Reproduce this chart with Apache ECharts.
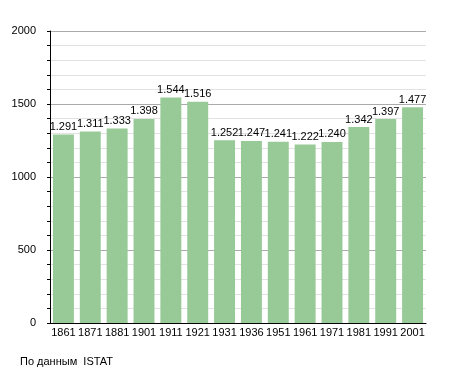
<!DOCTYPE html>
<html><head><meta charset="utf-8">
<script src="https://cdn.jsdelivr.net/npm/echarts@6/dist/echarts.min.js"></script>
<style>html,body{margin:0;padding:0;background:#fff}#c{width:455px;height:373px}</style>
</head><body><div id="c"></div>
<script>
const years = ['1861','1871','1881','1901','1911','1921','1931','1936','1951','1961','1971','1981','1991','2001'];
const population = [1291,1311,1333,1398,1544,1516,1252,1247,1241,1222,1240,1342,1397,1477];
const yTicks = [0,500,1000,1500,2000];
const sourceNote = 'По данным  ISTAT';

const chart = echarts.init(document.getElementById('c'), null, {renderer:'canvas'});
const font = 'Liberation Sans, Arial, sans-serif';
chart.setOption({
  animation:false,
  grid:{left:50,right:29,top:31,bottom:50,containLabel:false},
  graphic:[{type:'text',left:20,top:356,style:{text:sourceNote,font:'11px '+font,fill:'#000'}}],
  xAxis:{type:'category',data:years,
    axisLine:{lineStyle:{color:'#000',width:1}},
    axisTick:{show:false},
    axisLabel:{color:'#000',fontSize:11,fontFamily:font,margin:4,interval:0}},
  yAxis:{type:'value',min:yTicks[0],max:yTicks[yTicks.length-1],interval:500,
    axisLine:{show:true,lineStyle:{color:'#000',width:1}},
    axisTick:{show:true,length:3,inside:false,lineStyle:{color:'#000'}},
    minorTick:{show:true,splitNumber:5,length:3,lineStyle:{color:'#000'}},
    splitLine:{show:true,lineStyle:{color:'#aaa',width:1}},
    minorSplitLine:{show:true,lineStyle:{color:'#e2e2e2',width:1}},
    axisLabel:{color:'#000',fontSize:11,fontFamily:font,margin:14,formatter:v=>String(v)}},
  series:[{type:'bar',data:population,barCategoryGap:'22%',
    itemStyle:{color:'#97ca96'},
    label:{show:true,position:'top',distance:2,color:'#000',fontSize:11,fontFamily:font,
      formatter:p=>String(p.value).replace(/\B(?=(\d{3})+(?!\d))/g,'.')}}]
});
</script></body></html>
